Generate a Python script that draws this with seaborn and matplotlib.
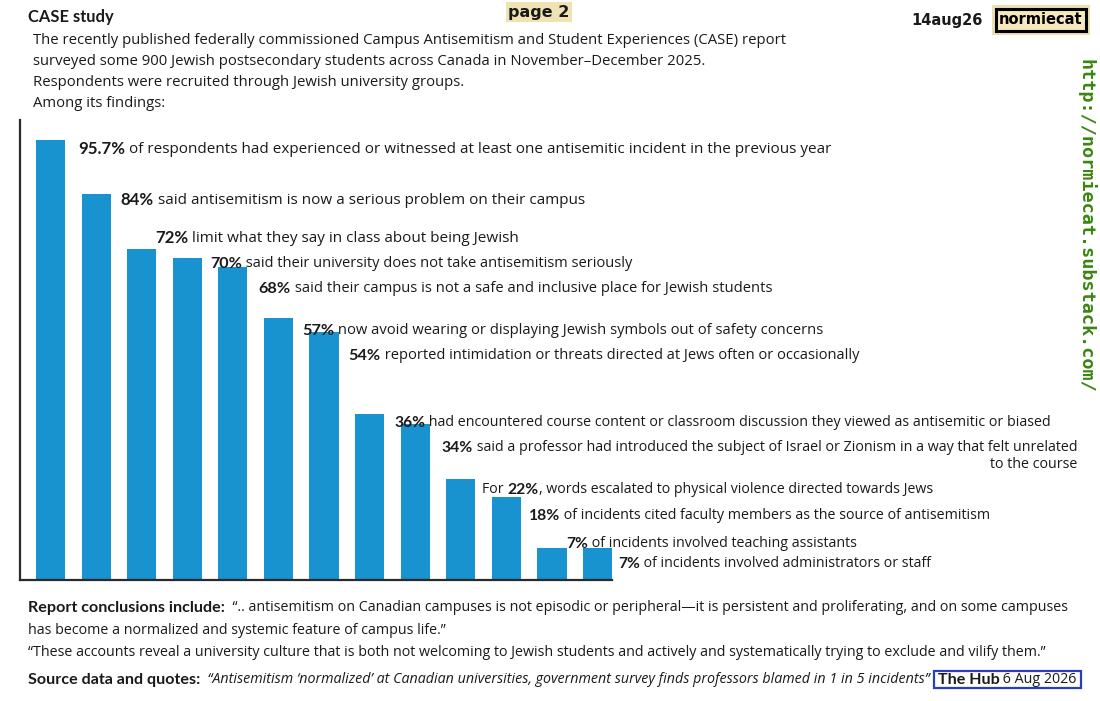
import matplotlib
matplotlib.use("Agg")
import matplotlib.pyplot as plt
import seaborn as sns
import pandas as pd
from matplotlib.patches import Rectangle

# ---- data ----
keys = ["any_incident", "serious_problem", "limit_speech", "not_serious", "not_safe",
        "avoid_symbols", "intimidation", "course_content", "professor_israel",
        "violence", "faculty_source", "tas", "admin_staff"]
pct = [95.7, 84, 72, 70, 68, 57, 54, 36, 34, 22, 18, 7, 7]
prefixes = ["", "", "", "", "", "", "", "", "", "For ", "", "", ""]
descriptions = [
    " of respondents had experienced or witnessed at least one antisemitic incident in the previous year",
    " said antisemitism is now a serious problem on their campus",
    " limit what they say in class about being Jewish",
    " said their university does not take antisemitism seriously",
    " said their campus is not a safe and inclusive place for Jewish students",
    " now avoid wearing or displaying Jewish symbols out of safety concerns",
    " reported intimidation or threats directed at Jews often or occasionally",
    " had encountered course content or classroom discussion they viewed as antisemitic or biased",
    " said a professor had introduced the subject of Israel or Zionism in a way that felt unrelated",
    ", words escalated to physical violence directed towards Jews",
    " of incidents cited faculty members as the source of antisemitism",
    " of incidents involved teaching assistants",
    " of incidents involved administrators or staff",
]
continuation = {8: "to the course"}

intro_lines = [
    "The recently published federally commissioned Campus Antisemitism and Student Experiences (CASE) report",
    "surveyed some 900 Jewish postsecondary students across Canada in November\u2013December 2025.",
    "Respondents were recruited through Jewish university groups.",
    "Among its findings:",
]
conclusion_1 = ("  \u201c.. antisemitism on Canadian campuses is not episodic or peripheral\u2014it is persistent "
                "and proliferating, and on some campuses")
conclusion_2 = "has become a normalized and systemic feature of campus life.\u201d"
conclusion_3 = ("\u201cThese accounts reveal a university culture that is both not welcoming to Jewish "
                "students and actively and systematically trying to exclude and vilify them.\u201d")
source_quote = ("  \u201cAntisemitism \u2018normalized\u2019 at Canadian universities, government survey "
                "finds professors blamed in 1 in 5 incidents\u201d ")

# ---- layout / style ----
label_dx = [13, 10, -1, 8, 11, 9, 10, 10, 12, 7, 8, 0, 6]       # px right of bar edge
label_dy = [14, 11, -6, 10, 26, 17, 28, 13, 28, 14, 23, 0, 20]   # px below bar top (baseline)
label_fs = [10.95, 10.95, 11.0, 10.55, 10.6, 10.6, 10.55, 10.25, 10.3, 10.2, 10.3, 10.25, 10.2]
BAR = "#1893d0"
INK = "#1a1a1a"
FONT = "Open Sans"
BOLD = "Lato"
BOLD_SCALE = 1.1

sns.set_theme(style="white")
plt.rcParams["font.family"] = [FONT, "DejaVu Sans"]

fig = plt.figure(figsize=(11, 7.01), dpi=100)
fig.patch.set_facecolor("white")

W, H = 1100, 701
ax = fig.add_axes([20 / W, 121 / H, 1060 / W, 460 / H])
df = pd.DataFrame({"key": keys, "pct": pct})
sns.barplot(data=df, x="key", y="pct", order=keys, color=BAR, width=0.64,
            saturation=1, edgecolor="none", ax=ax)
ax.set_xlim(-0.669, 22.58)
ax.set_ylim(0, 100)
ax.set_xticks([])
ax.set_yticks([])
ax.set_xlabel("")
ax.set_ylabel("")
for s in ["top", "right"]:
    ax.spines[s].set_visible(False)
for s in ["left", "bottom"]:
    ax.spines[s].set_color("#2a2a2a")
    ax.spines[s].set_linewidth(1.6)
ax.spines["bottom"].set_bounds(-0.669, len(keys) - 1 + 0.32)


def style_of(weight, size):
    if weight == "bold":
        return dict(family=[BOLD, "DejaVu Sans"], fontweight="bold", fontsize=size * BOLD_SCALE)
    return dict(family=[FONT, "DejaVu Sans"], fontweight="normal", fontsize=size)


def chain(first, segments, size, color=INK):
    """Place text segments one after another on a common baseline."""
    prev = first
    arts = [first]
    for txt, weight, style in segments:
        prev = ax.annotate(txt, xy=(1, 0), xycoords=prev, ha="left", va="bottom",
                           fontstyle=style, color=color, annotation_clip=False,
                           **style_of(weight, size))
        arts.append(prev)
    return arts


# bar labels
for i, v in enumerate(pct):
    segs = []
    if prefixes[i]:
        segs.append((prefixes[i], "normal", "normal"))
    segs.append((f"{v:g}%", "bold", "normal"))
    segs.append((descriptions[i], "normal", "normal"))
    t0 = ax.annotate(segs[0][0], xy=(i + 0.32, v), xycoords="data",
                     xytext=(label_dx[i], -label_dy[i]), textcoords="offset pixels",
                     ha="left", va="baseline", color=INK, annotation_clip=False,
                     **style_of(segs[0][1], label_fs[i]))
    arts = chain(t0, segs[1:], label_fs[i])
    if i in continuation:
        ax.annotate(continuation[i], xy=(1, 0), xycoords=arts[-1],
                    xytext=(0, -17), textcoords="offset pixels",
                    ha="right", va="bottom", color=INK, annotation_clip=False,
                    **style_of("normal", label_fs[i]))

# ---- header ----
fig.text(28 / W, 1 - 17 / H, "CASE study", color=INK, ha="left", va="center",
         **style_of("bold", 10.8))
for k, line in enumerate(intro_lines):
    fig.text(33 / W, 1 - (40 + 21.3 * k) / H, line, fontsize=10.7, color=INK,
             ha="left", va="center")

fig.text(539 / W, 1 - 12 / H, "page 2", fontsize=11.5, fontweight="bold",
         family="DejaVu Sans", color=INK, ha="center", va="center",
         bbox=dict(boxstyle="square,pad=0.15", fc="#efe3b3", ec="none"))
fig.text(947 / W, 1 - 20 / H, "14aug26", fontsize=10.5, fontweight="bold",
         family="DejaVu Sans", color=INK, ha="center", va="center")
nc = fig.text(1041 / W, 1 - 20 / H, "normiecat", fontsize=10.5, fontweight="bold",
              family="DejaVu Sans", color="black", ha="center", va="center",
              bbox=dict(boxstyle="square,pad=0.22", fc="#f4e8bc", ec="black", lw=2.2))
fig.text(1086 / W, 1 - 226 / H, "http://normiecat.substack.com/", fontsize=13.3,
         fontweight="bold", family="DejaVu Sans Mono", color="#3a8610",
         rotation=-90, ha="center", va="center")

# ---- footer ----
fs = 10.25
f1 = fig.text(28 / W, 1 - 612 / H, "Report conclusions include:", color=INK,
              ha="left", va="baseline", **style_of("bold", fs * 1.03))
ax.annotate(conclusion_1, xy=(1, 0), xycoords=f1, ha="left", va="bottom",
            fontsize=fs, color=INK, annotation_clip=False)
fig.text(28 / W, 1 - 630 / H, conclusion_2, fontsize=fs, color=INK, ha="left", va="center")
fig.text(28 / W, 1 - 652 / H, conclusion_3, fontsize=fs, color=INK, ha="left", va="center")
f4 = fig.text(28 / W, 1 - 684 / H, "Source data and quotes:", color=INK,
              ha="left", va="baseline", **style_of("bold", fs * 1.03))
q = ax.annotate(source_quote, xy=(1, 0), xycoords=f4, ha="left", va="bottom",
                fontsize=fs, fontstyle="italic", color=INK, annotation_clip=False)
hub1 = ax.annotate(" The Hub", xy=(1, 0), xycoords=q, ha="left", va="bottom",
                   color=INK, annotation_clip=False, **style_of("bold", fs * 1.03))
hub2 = ax.annotate(" 6 Aug 2026 ", xy=(1, 0), xycoords=hub1, ha="left", va="bottom",
                   fontsize=fs, color=INK, annotation_clip=False)

# boxes that need measured text extents
fig.canvas.draw()
r = fig.canvas.get_renderer()
b1 = q.get_window_extent(r)
b2 = hub2.get_window_extent(r)
x0 = hub1.get_window_extent(r).x0
fig.patches.append(Rectangle((x0, b1.y0 - 1), b2.x1 - x0, b1.height + 2,
                             transform=None, fill=False, ec="#2a3fc0", lw=1.6,
                             figure=fig))
bn = nc.get_bbox_patch().get_window_extent(r)
fig.patches.append(Rectangle((bn.x0 - 4, bn.y0 - 4), bn.width + 8, bn.height + 8,
                             transform=None, fc="#ece0b0", ec="none", zorder=-1,
                             figure=fig))

fig.savefig("out.png", dpi=100, facecolor="white")
